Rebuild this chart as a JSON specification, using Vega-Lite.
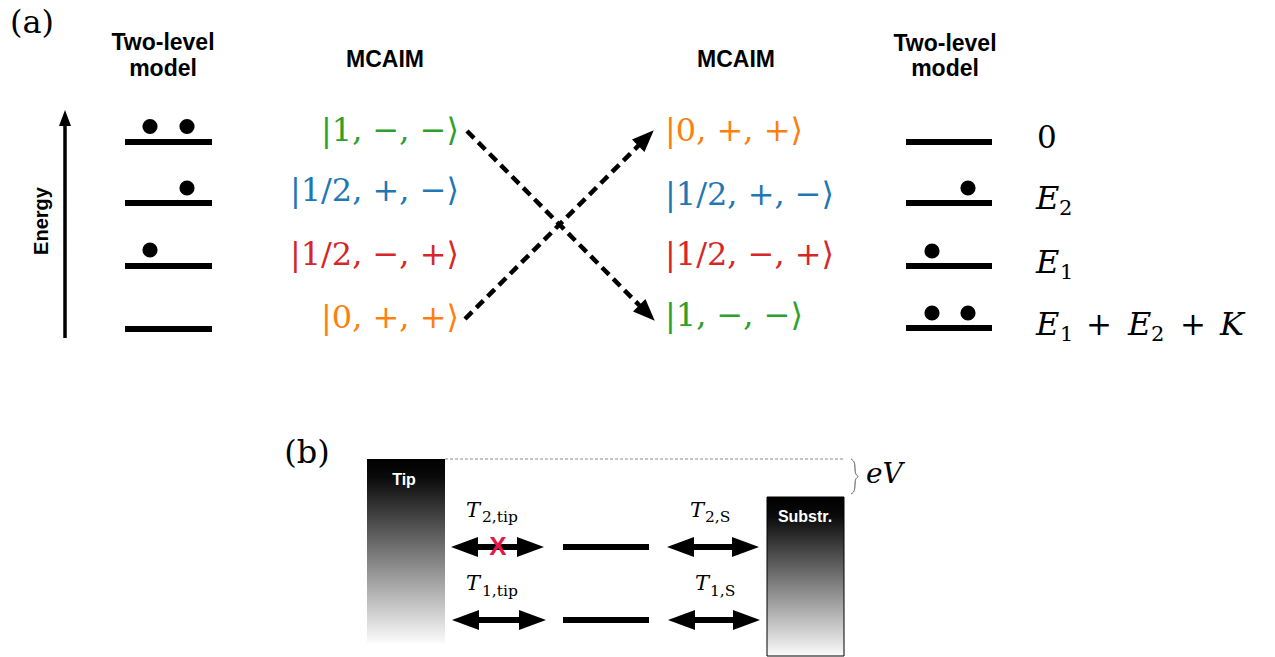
{
  "$schema": "https://vega.github.io/schema/vega-lite/v6.json",
  "width": 1275,
  "height": 657,
  "padding": 0,
  "autosize": {"type": "fit", "contains": "padding"},
  "background": "white",
  "config": {"view": {"stroke": null}},
  "datasets": {
    "tipbox": [{"x": 367, "x2": 445, "y": 459, "y2": 643}],
    "subbox": [{"x": 767, "x2": 844, "y": 497, "y2": 656}],
    "biasline": [{"x": 445, "x2": 845, "y": 459}],
    "brace": [
      {"i": 0, "x": 851, "y": 459}, {"i": 1, "x": 853.5, "y": 460.5}, {"i": 2, "x": 855, "y": 464},
      {"i": 3, "x": 855, "y": 472}, {"i": 4, "x": 856, "y": 475}, {"i": 5, "x": 859, "y": 476.5},
      {"i": 6, "x": 856, "y": 478}, {"i": 7, "x": 855, "y": 481}, {"i": 8, "x": 855, "y": 489},
      {"i": 9, "x": 853.5, "y": 492.5}, {"i": 10, "x": 851, "y": 494}
    ],
    "levels": [
      {"x": 125, "x2": 212, "y": 142}, {"x": 125, "x2": 212, "y": 203},
      {"x": 125, "x2": 212, "y": 266}, {"x": 125, "x2": 212, "y": 329},
      {"x": 906, "x2": 992, "y": 142}, {"x": 906, "x2": 992, "y": 203},
      {"x": 906, "x2": 992, "y": 266}, {"x": 906, "x2": 992, "y": 328},
      {"x": 563, "x2": 649, "y": 547}, {"x": 563, "x2": 649, "y": 620}
    ],
    "dots": [
      {"x": 150, "y": 126.5}, {"x": 187, "y": 126.5}, {"x": 187, "y": 188}, {"x": 150, "y": 250},
      {"x": 968, "y": 188}, {"x": 932, "y": 251}, {"x": 932, "y": 313}, {"x": 968, "y": 313}
    ],
    "eshaft": [{"x": 65, "y": 122, "y2": 338}],
    "ehead": [{"x": 65, "y": 118}],
    "dashes": [
      {"x": 467, "y": 131, "x2": 640, "y2": 306},
      {"x": 465, "y": 319, "x2": 639, "y2": 145}
    ],
    "headDown": [{"x": 647, "y": 313}],
    "headUp": [{"x": 646, "y": 138}],
    "tshafts": [
      {"x": 470, "x2": 526, "y": 547}, {"x": 471, "x2": 528, "y": 620},
      {"x": 686, "x2": 741, "y": 547}, {"x": 687, "x2": 742, "y": 620}
    ],
    "theadsL": [{"x": 464.5, "y": 547}, {"x": 465.5, "y": 620}, {"x": 680.5, "y": 547}, {"x": 681.5, "y": 620}],
    "theadsR": [{"x": 530.5, "y": 547}, {"x": 532.5, "y": 620}, {"x": 745.5, "y": 547}, {"x": 746.5, "y": 620}],
    "cross": [{"x": 498, "y": 547, "label": "X"}],
    "headers": [
      {"x": 163, "y": 50, "label": "Two-level"}, {"x": 163, "y": 76, "label": "model"},
      {"x": 385, "y": 67, "label": "MCAIM"}, {"x": 736, "y": 67, "label": "MCAIM"},
      {"x": 945, "y": 51, "label": "Two-level"}, {"x": 945, "y": 76, "label": "model"}
    ],
    "panels": [{"x": 32, "y": 33, "label": "(a)"}, {"x": 307, "y": 463, "label": "(b)"}],
    "energy": [{"x": 48, "y": 221, "label": "Energy"}],
    "ketsL": [
      {"x": 459, "y": 141, "label": "|1, −, −⟩", "state": "g"},
      {"x": 459, "y": 201, "label": "|1/2, +, −⟩", "state": "b"},
      {"x": 459, "y": 265, "label": "|1/2, −, +⟩", "state": "r"},
      {"x": 459, "y": 328, "label": "|0, +, +⟩", "state": "o"}
    ],
    "ketsR": [
      {"x": 665, "y": 141, "label": "|0, +, +⟩", "state": "o"},
      {"x": 665, "y": 205, "label": "|1/2, +, −⟩", "state": "b"},
      {"x": 665, "y": 265, "label": "|1/2, −, +⟩", "state": "r"},
      {"x": 665, "y": 326, "label": "|1, −, −⟩", "state": "g"}
    ],
    "upright": [
      {"x": 1037, "y": 148, "label": "0"},
      {"x": 1086, "y": 335, "label": "+"},
      {"x": 1180, "y": 335, "label": "+"}
    ],
    "emain": [
      {"x": 1036, "y": 209, "label": "E"},
      {"x": 1036, "y": 273, "label": "E"},
      {"x": 1036, "y": 335, "label": "E"},
      {"x": 1128, "y": 335, "label": "E"},
      {"x": 1220, "y": 335, "label": "K"}
    ],
    "esub": [
      {"x": 1059, "y": 215, "label": "2"},
      {"x": 1060, "y": 279, "label": "1"},
      {"x": 1060, "y": 341, "label": "1"},
      {"x": 1151, "y": 341, "label": "2"}
    ],
    "tmain": [
      {"x": 466, "y": 517, "label": "T"}, {"x": 466, "y": 590, "label": "T"},
      {"x": 690, "y": 517, "label": "T"}, {"x": 695, "y": 590, "label": "T"}
    ],
    "tsub": [
      {"x": 482, "y": 522, "label": "2,tip"}, {"x": 482, "y": 596, "label": "1,tip"},
      {"x": 705, "y": 522, "label": "2,S"}, {"x": 710, "y": 596, "label": "1,S"}
    ],
    "boxlabels": [{"x": 404, "y": 485, "label": "Tip"}, {"x": 805, "y": 522, "label": "Substr."}],
    "ev": [{"x": 866, "y": 483, "label": "eV"}]
  },
  "encoding": {
    "x": {"field": "x", "type": "quantitative", "scale": {"domain": [0, 1275], "nice": false, "zero": false}, "axis": null},
    "y": {"field": "y", "type": "quantitative", "scale": {"domain": [0, 657], "nice": false, "zero": false, "reverse": true}, "axis": null}
  },
  "layer": [
    {
      "data": {"name": "tipbox"},
      "mark": {"type": "rect", "fill": {"gradient": "linear", "x1": 0, "y1": 0, "x2": 0, "y2": 1,
        "stops": [{"offset": 0, "color": "#000000"}, {"offset": 0.1, "color": "#0a0a0a"}, {"offset": 1, "color": "#fbfbfb"}]}},
      "encoding": {"x2": {"field": "x2"}, "y2": {"field": "y2"}}
    },
    {
      "data": {"name": "subbox"},
      "mark": {"type": "rect", "stroke": "#000000", "strokeWidth": 1, "fill": {"gradient": "linear", "x1": 0, "y1": 0, "x2": 0, "y2": 1,
        "stops": [{"offset": 0, "color": "#000000"}, {"offset": 0.12, "color": "#0a0a0a"}, {"offset": 1, "color": "#fbfbfb"}]}},
      "encoding": {"x2": {"field": "x2"}, "y2": {"field": "y2"}}
    },
    {
      "data": {"name": "biasline"},
      "mark": {"type": "rule", "color": "#8a8a8a", "strokeWidth": 1, "strokeDash": [3, 2]},
      "encoding": {"x2": {"field": "x2"}}
    },
    {
      "data": {"name": "brace"},
      "mark": {"type": "line", "color": "#555555", "strokeWidth": 1, "interpolate": "basis"},
      "encoding": {"order": {"field": "i", "type": "quantitative"}}
    },
    {
      "data": {"name": "levels"},
      "mark": {"type": "rule", "color": "#000000", "strokeWidth": 6},
      "encoding": {"x2": {"field": "x2"}}
    },
    {
      "data": {"name": "dots"},
      "mark": {"type": "point", "filled": true, "color": "#000000", "opacity": 1, "size": 230, "shape": "circle"}
    },
    {
      "data": {"name": "eshaft"},
      "mark": {"type": "rule", "color": "#000000", "strokeWidth": 3.5},
      "encoding": {"y2": {"field": "y2"}}
    },
    {
      "data": {"name": "ehead"},
      "mark": {"type": "point", "filled": true, "color": "#000000", "opacity": 1, "size": 256, "shape": "M0,-1L0.75,1L-0.75,1Z", "angle": 0}
    },
    {
      "data": {"name": "dashes"},
      "mark": {"type": "rule", "color": "#000000", "strokeWidth": 4.5, "strokeDash": [10, 6]},
      "encoding": {"x2": {"field": "x2"}, "y2": {"field": "y2"}}
    },
    {
      "data": {"name": "headDown"},
      "mark": {"type": "point", "filled": true, "color": "#000000", "opacity": 1, "size": 484, "shape": "M0,-1L0.8,1L-0.8,1Z", "angle": 135}
    },
    {
      "data": {"name": "headUp"},
      "mark": {"type": "point", "filled": true, "color": "#000000", "opacity": 1, "size": 484, "shape": "M0,-1L0.8,1L-0.8,1Z", "angle": 45}
    },
    {
      "data": {"name": "tshafts"},
      "mark": {"type": "rule", "color": "#000000", "strokeWidth": 6},
      "encoding": {"x2": {"field": "x2"}}
    },
    {
      "data": {"name": "theadsL"},
      "mark": {"type": "point", "filled": true, "color": "#000000", "opacity": 1, "size": 729, "shape": "M0,-1L0.74,1L-0.74,1Z", "angle": 270}
    },
    {
      "data": {"name": "theadsR"},
      "mark": {"type": "point", "filled": true, "color": "#000000", "opacity": 1, "size": 729, "shape": "M0,-1L0.74,1L-0.74,1Z", "angle": 90}
    },
    {
      "data": {"name": "cross"},
      "mark": {"type": "text", "font": "Liberation Sans", "fontSize": 26, "fontWeight": "bold", "color": "#e3174b", "align": "center", "baseline": "middle"},
      "encoding": {"text": {"field": "label"}}
    },
    {
      "data": {"name": "headers"},
      "mark": {"type": "text", "font": "Liberation Sans", "fontSize": 23, "fontWeight": "bold", "color": "#000000", "align": "center", "baseline": "alphabetic"},
      "encoding": {"text": {"field": "label"}}
    },
    {
      "data": {"name": "panels"},
      "mark": {"type": "text", "font": "DejaVu Serif", "fontSize": 32, "color": "#000000", "align": "center", "baseline": "alphabetic"},
      "encoding": {"text": {"field": "label"}}
    },
    {
      "data": {"name": "energy"},
      "mark": {"type": "text", "font": "Liberation Sans", "fontSize": 20, "fontWeight": "bold", "color": "#000000", "align": "center", "baseline": "alphabetic", "angle": 270},
      "encoding": {"text": {"field": "label"}}
    },
    {
      "data": {"name": "ketsL"},
      "mark": {"type": "text", "font": "DejaVu Serif", "fontSize": 32, "align": "right", "baseline": "alphabetic"},
      "encoding": {
        "text": {"field": "label"},
        "color": {"field": "state", "type": "nominal", "scale": {"domain": ["g", "b", "r", "o"], "range": ["#2ca02c", "#1f77b4", "#d62728", "#ff7f0e"]}, "legend": null}
      }
    },
    {
      "data": {"name": "ketsR"},
      "mark": {"type": "text", "font": "DejaVu Serif", "fontSize": 32, "align": "left", "baseline": "alphabetic"},
      "encoding": {
        "text": {"field": "label"},
        "color": {"field": "state", "type": "nominal", "scale": {"domain": ["g", "b", "r", "o"], "range": ["#2ca02c", "#1f77b4", "#d62728", "#ff7f0e"]}, "legend": null}
      }
    },
    {
      "data": {"name": "upright"},
      "mark": {"type": "text", "font": "DejaVu Serif", "fontSize": 31, "color": "#000000", "align": "left", "baseline": "alphabetic"},
      "encoding": {"text": {"field": "label"}}
    },
    {
      "data": {"name": "emain"},
      "mark": {"type": "text", "font": "DejaVu Serif", "fontStyle": "italic", "fontSize": 32, "color": "#000000", "align": "left", "baseline": "alphabetic"},
      "encoding": {"text": {"field": "label"}}
    },
    {
      "data": {"name": "esub"},
      "mark": {"type": "text", "font": "DejaVu Serif", "fontSize": 21, "color": "#000000", "align": "left", "baseline": "alphabetic"},
      "encoding": {"text": {"field": "label"}}
    },
    {
      "data": {"name": "tmain"},
      "mark": {"type": "text", "font": "DejaVu Serif", "fontStyle": "italic", "fontSize": 21, "color": "#000000", "align": "left", "baseline": "alphabetic"},
      "encoding": {"text": {"field": "label"}}
    },
    {
      "data": {"name": "tsub"},
      "mark": {"type": "text", "font": "DejaVu Serif", "fontSize": 15.5, "color": "#000000", "align": "left", "baseline": "alphabetic"},
      "encoding": {"text": {"field": "label"}}
    },
    {
      "data": {"name": "boxlabels"},
      "mark": {"type": "text", "font": "Liberation Sans", "fontSize": 16, "fontWeight": "bold", "color": "#ffffff", "align": "center", "baseline": "alphabetic"},
      "encoding": {"text": {"field": "label"}}
    },
    {
      "data": {"name": "ev"},
      "mark": {"type": "text", "font": "DejaVu Serif", "fontStyle": "italic", "fontSize": 28, "color": "#000000", "align": "left", "baseline": "alphabetic"},
      "encoding": {"text": {"field": "label"}}
    }
  ]
}
